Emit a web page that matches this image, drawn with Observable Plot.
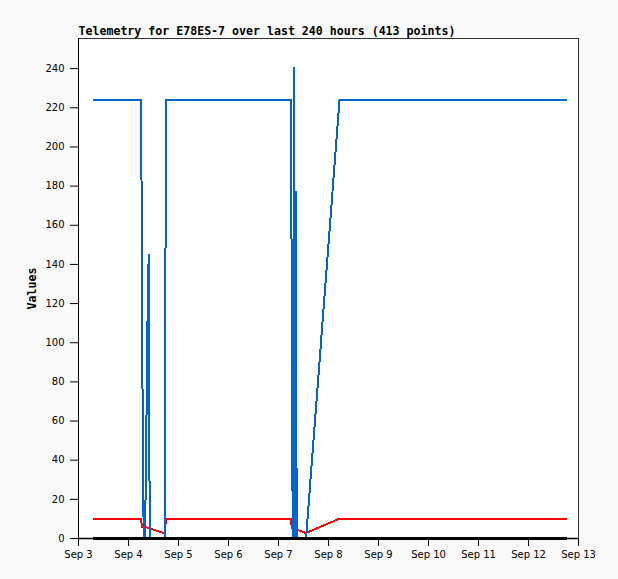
<!DOCTYPE html>
<html>
<head>
<meta charset="utf-8">
<script src="https://cdn.jsdelivr.net/npm/d3@7"></script>
<script src="https://cdn.jsdelivr.net/npm/@observablehq/plot@0.6"></script>
<style>
  html, body { margin: 0; padding: 0; background: #fafafa; }
  #chart svg { display: block; }
</style>
</head>
<body>
<div id="chart"></div>
<script>
const titleText = "Telemetry for E78ES-7 over last 240 hours (413 points)";
const yLabel = "Values";

const blueTimes = [
  "2024-09-03T07:12Z", "2024-09-04T06:00Z", "2024-09-04T06:20Z", "2024-09-04T06:49Z",
  "2024-09-04T07:18Z", "2024-09-04T07:47Z", "2024-09-04T08:15Z", "2024-09-04T08:44Z",
  "2024-09-04T09:13Z", "2024-09-04T09:42Z", "2024-09-04T10:11Z", "2024-09-04T17:31Z",
  "2024-09-04T17:54Z", "2024-09-07T06:00Z", "2024-09-07T06:23Z", "2024-09-07T06:49Z",
  "2024-09-07T07:12Z", "2024-09-07T07:32Z", "2024-09-07T07:55Z", "2024-09-07T08:18Z",
  "2024-09-07T08:44Z", "2024-09-07T13:12Z", "2024-09-08T05:17Z", "2024-09-12T18:14Z"
];
const blueValues = [
  224, 224, 168, 56,
  0, 0, 24, 72,
  120, 145, 0, 0,
  224, 224, 112, 0,
  112, 240.5, 0, 177,
  0, 0, 224, 224
];

const redTimes = [
  "2024-09-03T07:12Z", "2024-09-04T06:00Z", "2024-09-04T06:29Z", "2024-09-04T07:41Z",
  "2024-09-04T17:02Z", "2024-09-04T17:31Z", "2024-09-04T17:54Z", "2024-09-07T06:00Z",
  "2024-09-07T06:23Z", "2024-09-07T13:12Z", "2024-09-08T05:02Z", "2024-09-12T18:14Z"
];
const redValues = [10, 10, 6, 6, 2.7, 2.7, 10, 10, 5.5, 2.8, 10, 10];

const blackTimes = ["2024-09-03T07:12Z", "2024-09-12T18:14Z"];
const blackValues = [0, 0];

const xTicks = d3.range(3, 14).map(d => `2024-09-${String(d).padStart(2, "0")}T00:00Z`);
const yTicks = [0, 20, 40, 60, 80, 100, 120, 140, 160, 180, 200, 220, 240];

const toRows = (times, values) => times.map((t, i) => ({t: new Date(t), v: values[i]}));
const blue = toRows(blueTimes, blueValues);
const red = toRows(redTimes, redValues);
const black = toRows(blackTimes, blackValues);

const tickFont = "'DejaVu Sans', sans-serif";
const monoFont = "'DejaVu Sans Mono', monospace";

const chart = Plot.plot({
  width: 618,
  height: 579,
  marginLeft: 78,
  marginRight: 40,
  marginTop: 38,
  marginBottom: 41,
  style: {background: "#fafafa", fontFamily: tickFont, fontSize: "10px", color: "#000"},
  x: {type: "utc", domain: [new Date(xTicks[0]), new Date(xTicks[xTicks.length - 1])]},
  y: {domain: [0, 255.4]},
  marks: [
    Plot.frame({fill: "white", stroke: null}),
    Plot.lineY(red, {x: "t", y: "v", stroke: "#ff0000", strokeWidth: 2, curve: "linear", shapeRendering: "crispEdges"}),
    Plot.lineY(blue, {x: "t", y: "v", stroke: "#0066cc", strokeWidth: 2, curve: "linear", shapeRendering: "crispEdges"}),
    Plot.lineY(black, {x: "t", y: "v", stroke: "#000", strokeWidth: 2.5, shapeRendering: "crispEdges"}),
    Plot.frame({stroke: "#333", strokeWidth: 1}),
    Plot.axisX({
      ticks: xTicks.map(d => new Date(d)),
      tickFormat: d3.utcFormat("%b %-d"),
      tickSize: 8,
      tickPadding: 4,
      label: null,
      fontSize: 10,
      stroke: "#000"
    }),
    Plot.axisY({
      ticks: yTicks,
      tickSize: 8,
      tickPadding: 6,
      label: null,
      fontSize: 10,
      stroke: "#000"
    }),
    Plot.ruleY([0], {stroke: "#000", strokeWidth: 1.5}),
    Plot.ruleX([new Date(xTicks[0])], {stroke: "#000", strokeWidth: 1}),
    Plot.text([titleText], {
      frameAnchor: "top-left", textAnchor: "start", lineAnchor: "middle",
      dy: -7, fontWeight: "bold", fontFamily: monoFont, fontSize: 11.6, fill: "#000"
    }),
    Plot.text([yLabel], {
      frameAnchor: "left", rotate: -90, dx: -46, textAnchor: "middle", lineAnchor: "middle",
      fontWeight: "bold", fontFamily: monoFont, fontSize: 11.6, fill: "#000"
    })
  ]
});

document.getElementById("chart").appendChild(chart);
</script>
</body>
</html>
